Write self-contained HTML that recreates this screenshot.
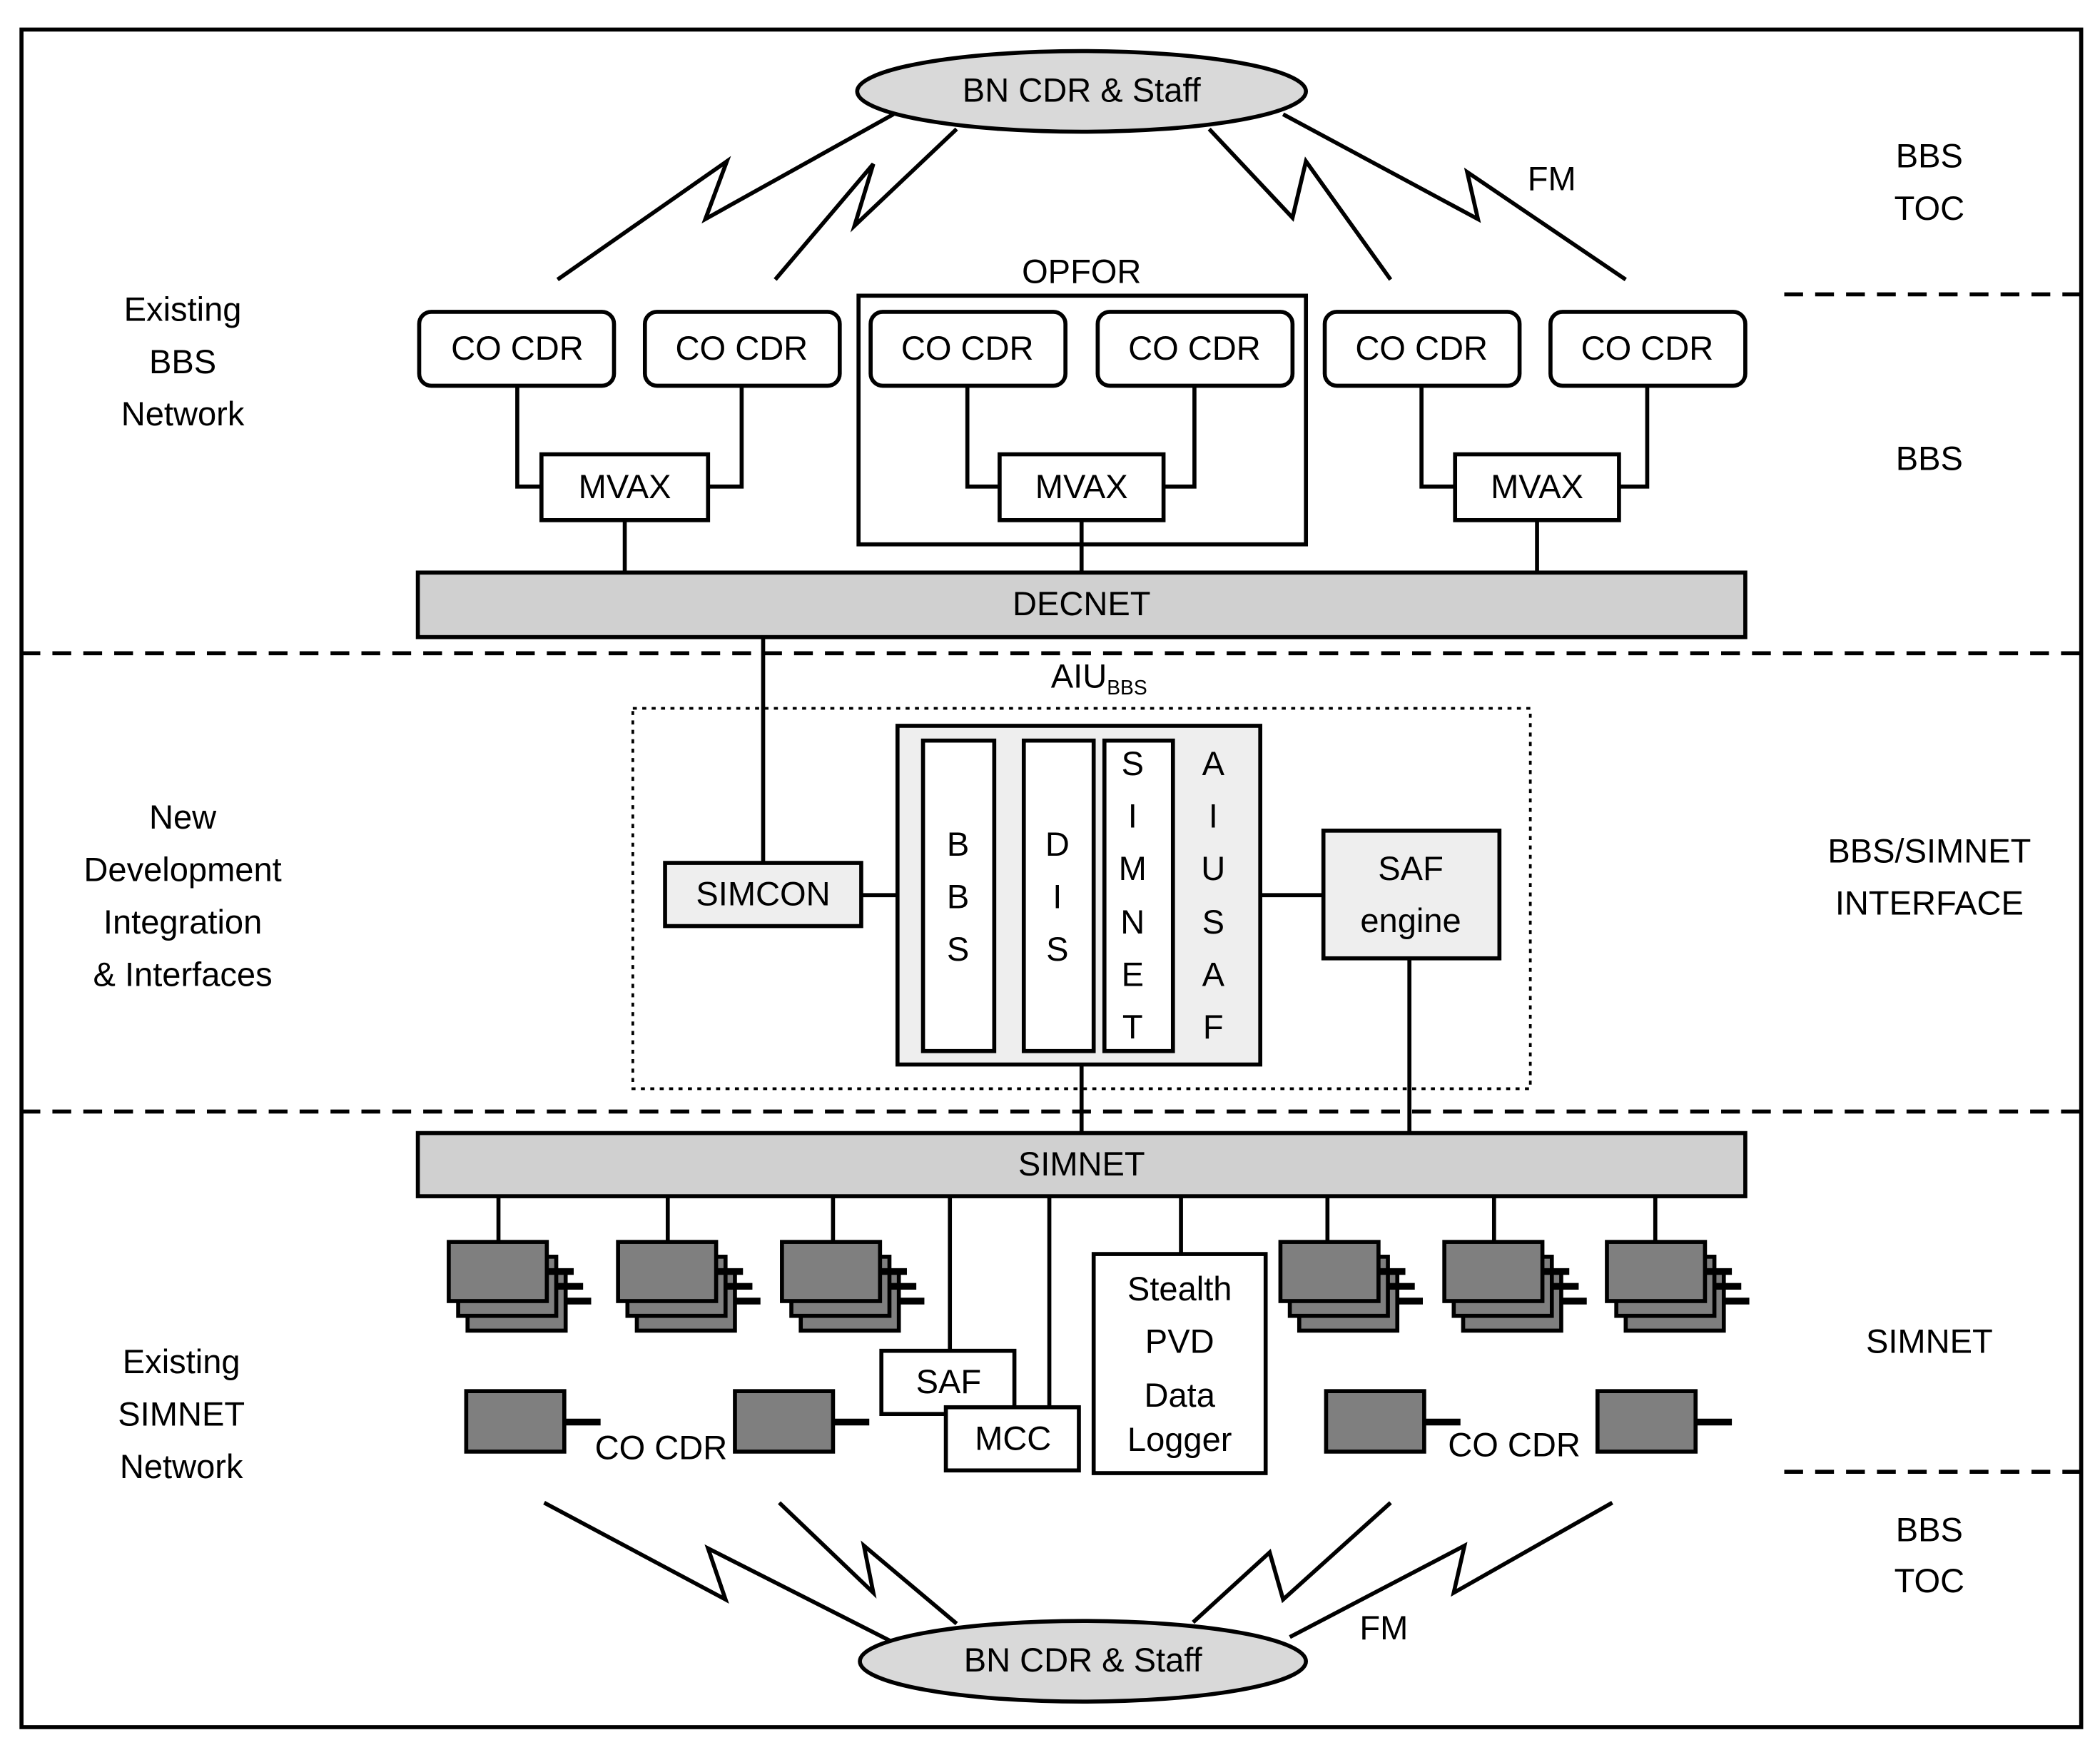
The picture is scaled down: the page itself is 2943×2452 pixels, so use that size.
<!DOCTYPE html>
<html><head><meta charset="utf-8"><style>
html,body{margin:0;padding:0;background:#fff}
svg{display:block}
text{font-family:"Liberation Sans",sans-serif;font-size:25px;fill:#000;text-anchor:middle;dominant-baseline:middle}
</style></head><body>
<svg width="2943" height="2452" viewBox="0 0 1563 1302" preserveAspectRatio="none" xmlns="http://www.w3.org/2000/svg">
<defs>
<g id="tank">
<rect x="14" y="22" width="73" height="44" fill="#7f7f7f" stroke="#000" stroke-width="3"/>
<line x1="87" y1="44" x2="106" y2="44" stroke="#000" stroke-width="5"/>
<rect x="7" y="11" width="73" height="44" fill="#7f7f7f" stroke="#000" stroke-width="3"/>
<line x1="80" y1="33" x2="100" y2="33" stroke="#000" stroke-width="5"/>
<rect x="0" y="0" width="73" height="44" fill="#7f7f7f" stroke="#000" stroke-width="3"/>
<line x1="73" y1="22" x2="93" y2="22" stroke="#000" stroke-width="5"/>
</g>
<g id="single">
<rect x="0" y="0" width="73" height="45" fill="#7f7f7f" stroke="#000" stroke-width="3"/>
<line x1="73" y1="23" x2="100" y2="23" stroke="#000" stroke-width="5"/>
</g>
</defs>
<rect x="16" y="22" width="1533" height="1263" fill="none" stroke="#000" stroke-width="3"/>
<g fill="none" stroke="#000" stroke-width="3">
<polyline points="415,208 541,120 525,163 665,85"/>
<polyline points="577,208 650,122 636,168 712,96"/>
<polyline points="1035,208 972,120 962,162 900,96"/>
<polyline points="1210,208 1092,128 1100,163 955,85"/>
<polyline points="405,1118 540,1190 527,1152 665,1222"/>
<polyline points="580,1118 650,1185 643,1150 712,1208"/>
<polyline points="1035,1118 955,1190 945,1155 888,1207"/>
<polyline points="1200,1118 1082,1185 1090,1150 960,1218"/>
</g>
<ellipse cx="805" cy="68" rx="167" ry="30" fill="#d9d9d9" stroke="#000" stroke-width="3"/>
<text x="805" y="69">BN CDR &amp; Staff</text>
<ellipse cx="806" cy="1236" rx="166" ry="30" fill="#d9d9d9" stroke="#000" stroke-width="3"/>
<text x="806" y="1237">BN CDR &amp; Staff</text>
<text x="1155" y="135">FM</text>
<text x="1030" y="1213">FM</text>
<text x="1436" y="118">BBS</text><text x="1436" y="157">TOC</text>
<text x="1436" y="343">BBS</text>
<text x="1436" y="635">BBS/SIMNET</text><text x="1436" y="674">INTERFACE</text>
<text x="1436" y="1000">SIMNET</text>
<text x="1436" y="1140">BBS</text><text x="1436" y="1178">TOC</text>
<text x="136" y="232">Existing</text><text x="136" y="271">BBS</text><text x="136" y="310">Network</text>
<text x="136" y="610">New</text><text x="136" y="649">Development</text><text x="136" y="688">Integration</text><text x="136" y="727">&amp; Interfaces</text>
<text x="135" y="1015">Existing</text><text x="135" y="1054">SIMNET</text><text x="135" y="1093">Network</text>
<g stroke="#000" stroke-width="3" stroke-dasharray="14,9">
<line x1="1328" y1="219" x2="1548" y2="219"/>
<line x1="16" y1="486" x2="1548" y2="486"/>
<line x1="16" y1="827" x2="1548" y2="827"/>
<line x1="1328" y1="1095" x2="1548" y2="1095"/>
</g>
<rect x="639" y="220" width="333" height="185" fill="none" stroke="#000" stroke-width="3"/>
<text x="805" y="204">OPFOR</text>
<g fill="none" stroke="#000" stroke-width="3">
<polyline points="385,287 385,362 403,362"/><polyline points="552,287 552,362 527,362"/>
<polyline points="720,287 720,362 744,362"/><polyline points="889,287 889,362 866,362"/>
<polyline points="1058,287 1058,362 1083,362"/><polyline points="1226,287 1226,362 1205,362"/>
<line x1="465" y1="387" x2="465" y2="426"/><line x1="805" y1="387" x2="805" y2="426"/><line x1="1144" y1="387" x2="1144" y2="426"/>
</g>
<g fill="#fff" stroke="#000" stroke-width="3">
<rect x="312" y="232" width="145" height="55" rx="9"/><rect x="480" y="232" width="145" height="55" rx="9"/>
<rect x="648" y="232" width="145" height="55" rx="9"/><rect x="817" y="232" width="145" height="55" rx="9"/>
<rect x="986" y="232" width="145" height="55" rx="9"/><rect x="1154" y="232" width="145" height="55" rx="9"/>
<rect x="403" y="338" width="124" height="49"/><rect x="744" y="338" width="122" height="49"/><rect x="1083" y="338" width="122" height="49"/>
</g>
<text x="385" y="261">CO CDR</text><text x="552" y="261">CO CDR</text><text x="720" y="261">CO CDR</text>
<text x="889" y="261">CO CDR</text><text x="1058" y="261">CO CDR</text><text x="1226" y="261">CO CDR</text>
<text x="465" y="364">MVAX</text><text x="805" y="364">MVAX</text><text x="1144" y="364">MVAX</text>
<rect x="311" y="426" width="988" height="48" fill="#d0d0d0" stroke="#000" stroke-width="3"/>
<text x="805" y="451">DECNET</text>
<text x="818" y="505">AIU<tspan font-size="15" dy="8">BBS</tspan></text>
<rect x="471" y="527" width="668" height="283" fill="none" stroke="#000" stroke-width="2" stroke-dasharray="3,4"/>
<g stroke="#000" stroke-width="3">
<line x1="568" y1="474" x2="568" y2="642"/><line x1="641" y1="666" x2="668" y2="666"/>
<line x1="938" y1="666" x2="985" y2="666"/><line x1="805" y1="792" x2="805" y2="843"/>
<line x1="1049" y1="713" x2="1049" y2="843"/>
</g>
<rect x="495" y="642" width="146" height="47" fill="#eeeeee" stroke="#000" stroke-width="3"/>
<text x="568" y="667">SIMCON</text>
<rect x="668" y="540" width="270" height="252" fill="#eeeeee" stroke="#000" stroke-width="3"/>
<g fill="#fff" stroke="#000" stroke-width="3">
<rect x="687" y="551" width="53" height="231"/><rect x="762" y="551" width="52" height="231"/><rect x="822" y="551" width="51" height="231"/>
</g>
<text x="713" y="630">B</text><text x="713" y="669">B</text><text x="713" y="708">S</text>
<text x="787" y="630">D</text><text x="787" y="669">I</text><text x="787" y="708">S</text>
<text x="843" y="570">S</text><text x="843" y="609">I</text><text x="843" y="648">M</text><text x="843" y="688">N</text><text x="843" y="727">E</text><text x="843" y="766">T</text>
<text x="903" y="570">A</text><text x="903" y="609">I</text><text x="903" y="648">U</text><text x="903" y="688">S</text><text x="903" y="727">A</text><text x="903" y="766">F</text>
<rect x="985" y="618" width="131" height="95" fill="#eeeeee" stroke="#000" stroke-width="3"/>
<text x="1050" y="648">SAF</text><text x="1050" y="687">engine</text>
<rect x="311" y="843" width="988" height="47" fill="#d0d0d0" stroke="#000" stroke-width="3"/>
<text x="805" y="868">SIMNET</text>
<g stroke="#000" stroke-width="3">
<line x1="371" y1="890" x2="371" y2="924"/><line x1="497" y1="890" x2="497" y2="924"/><line x1="620" y1="890" x2="620" y2="924"/>
<line x1="988" y1="890" x2="988" y2="924"/><line x1="1112" y1="890" x2="1112" y2="924"/><line x1="1232" y1="890" x2="1232" y2="924"/>
<line x1="707" y1="890" x2="707" y2="1005"/><line x1="781" y1="890" x2="781" y2="1048"/><line x1="879" y1="890" x2="879" y2="933"/>
</g>
<use href="#tank" x="334" y="924"/><use href="#tank" x="460" y="924"/><use href="#tank" x="582" y="924"/>
<use href="#tank" x="953" y="924"/><use href="#tank" x="1075" y="924"/><use href="#tank" x="1196" y="924"/>
<use href="#single" x="347" y="1035"/><use href="#single" x="547" y="1035"/>
<use href="#single" x="987" y="1035"/><use href="#single" x="1189" y="1035"/>
<text x="492" y="1079">CO CDR</text><text x="1127" y="1077">CO CDR</text>
<rect x="656" y="1005" width="99" height="47" fill="#fff" stroke="#000" stroke-width="3"/>
<text x="706" y="1030">SAF</text>
<rect x="704" y="1047" width="99" height="47" fill="#fff" stroke="#000" stroke-width="3"/>
<text x="754" y="1072">MCC</text>
<rect x="814" y="933" width="128" height="163" fill="#fff" stroke="#000" stroke-width="3"/>
<text x="878" y="961">Stealth</text><text x="878" y="1000">PVD</text><text x="878" y="1040">Data</text><text x="878" y="1073">Logger</text>
</svg>
</body></html>
